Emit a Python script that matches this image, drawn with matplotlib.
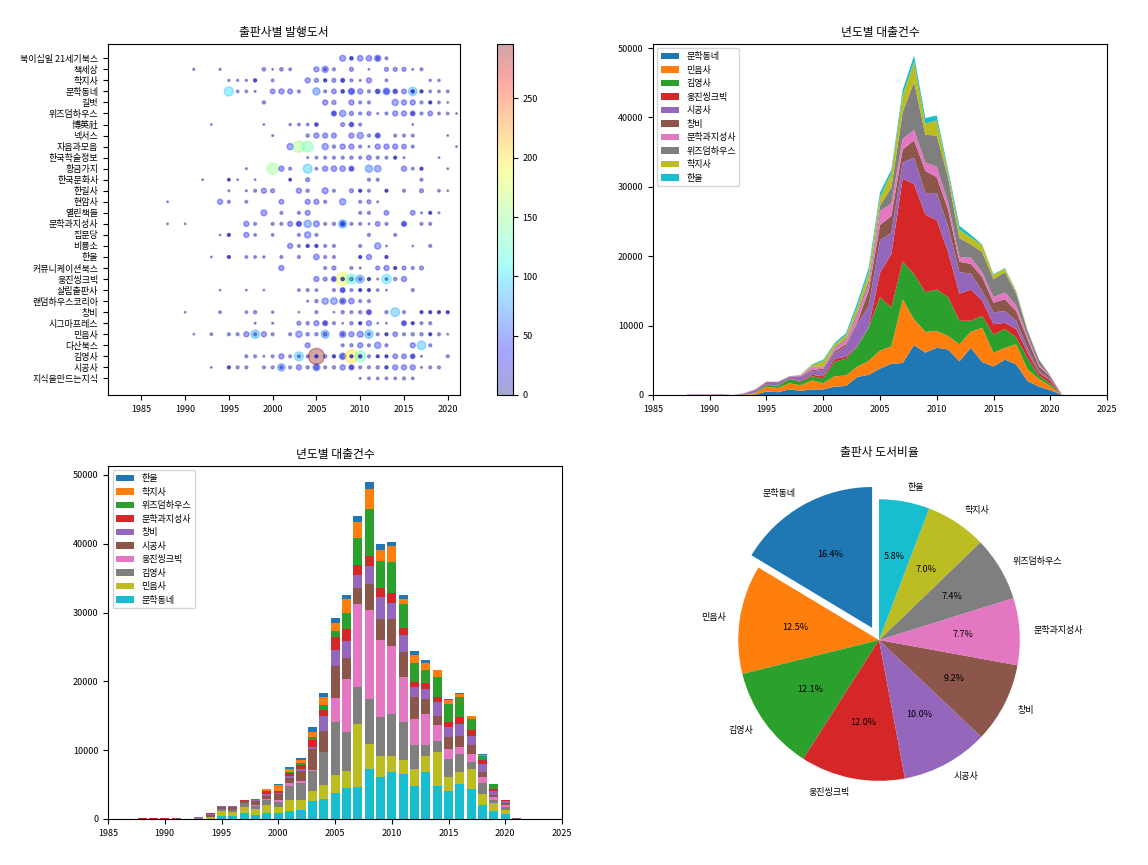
import matplotlib
matplotlib.use('Agg')
import matplotlib.pyplot as plt
import numpy as np

plt.rcParams['font.family'] = ['Noto Sans CJK KR', 'DejaVu Sans']
plt.rcParams['font.size'] = 6.5

# ---- 출판사별 발행도서 (scatter): one (year, loans) per book ----
# publishers from bottom row to top row
scatter_pubs = ['지식을만드는지식', '시공사', '김영사', '다산북스', '민음사', '시그마프레스', '창비',
                '랜덤하우스코리아', '살림출판사', '웅진씽크빅', '커뮤니케이션북스', '한울', '비룡소',
                '집문당', '문학과지성사', '열린책들', '현암사', '한길사', '한국문화사', '황금가지',
                '한국학술정보', '자음과모음', '넥서스', '博英社', '위즈덤하우스', '길벗', '문학동네',
                '학지사', '책세상', '북이십일 21세기북스']

books = {
    '북이십일 21세기북스': [(2008, 40), (2009, 12), (2009, 12), (2010, 35), (2011, 35), (2012, 45), (2012, 15), (2013, 10)],
    '책세상': [(1991, 5), (1994, 5), (1999, 14), (2000, 3), (2001, 14), (2002, 8), (2005, 30), (2006, 45), (2006, 8),
            (2007, 10), (2009, 18), (2011, 3), (2013, 18), (2014, 18), (2015, 18), (2016, 4), (2017, 10)],
    '학지사': [(1995, 5), (1996, 5), (1997, 5), (1998, 10), (1998, 10), (2000, 8), (2004, 30), (2005, 18), (2006, 10),
            (2006, 10), (2007, 18), (2008, 18), (2008, 10), (2009, 10), (2010, 4), (2011, 30), (2013, 8), (2018, 6), (2019, 6)],
    '문학동네': [(1995, 95), (1996, 8), (1997, 8), (1998, 4), (2000, 25), (2001, 30), (2002, 28), (2003, 10), (2005, 60),
             (2006, 10), (2007, 25), (2008, 12), (2008, 12), (2009, 45), (2009, 20), (2010, 30), (2011, 10), (2012, 25),
             (2012, 12), (2013, 50), (2013, 20), (2014, 25), (2014, 10), (2015, 25), (2016, 80), (2016, 10), (2016, 10),
             (2017, 10), (2017, 10), (2018, 8), (2019, 8), (2020, 8)],
    '길벗': [(1999, 12), (2006, 30), (2007, 20), (2009, 30), (2010, 10), (2011, 10), (2014, 45), (2015, 30), (2016, 30),
           (2017, 10), (2018, 10), (2018, 10), (2019, 8), (2020, 3)],
    '위즈덤하우스': [(2007, 30), (2007, 12), (2008, 45), (2009, 20), (2010, 10), (2011, 18), (2012, 4), (2013, 10), (2014, 30),
               (2015, 30), (2016, 25), (2016, 10), (2017, 10), (2018, 25), (2019, 8), (2020, 8), (2021, 3)],
    '博英社': [(1993, 3), (1999, 3), (2002, 6), (2003, 8), (2004, 8), (2005, 15), (2005, 8), (2008, 18), (2009, 25),
            (2009, 10), (2010, 10), (2016, 3)],
    '넥서스': [(2000, 4), (2004, 12), (2005, 30), (2006, 30), (2007, 28), (2009, 30), (2010, 45), (2011, 10), (2012, 30),
            (2012, 10), (2014, 10), (2015, 10), (2016, 10), (2020, 3)],
    '자음과모음': [(2002, 45), (2003, 155), (2004, 135), (2006, 45), (2007, 12), (2008, 30), (2009, 30), (2010, 10),
              (2011, 4), (2012, 30), (2013, 30), (2014, 30), (2015, 25), (2016, 10), (2021, 3)],
    '한국학술정보': [(2004, 4), (2005, 8), (2006, 10), (2007, 10), (2008, 10), (2009, 12), (2010, 10), (2011, 25),
               (2012, 10), (2013, 10), (2014, 10), (2014, 8), (2015, 4), (2019, 3)],
    '황금가지': [(1997, 4), (2000, 150), (2001, 30), (2002, 10), (2004, 90), (2005, 8), (2006, 30), (2007, 35), (2008, 35),
             (2009, 30), (2009, 10), (2011, 60), (2012, 50), (2015, 30), (2016, 8), (2017, 10), (2017, 8), (2020, 3)],
    '한국문화사': [(1992, 3), (1995, 8), (1995, 6), (1996, 3), (1998, 3), (2002, 8), (2002, 6), (2004, 18), (2011, 10),
              (2012, 10), (2017, 10)],
    '한길사': [(1995, 4), (1997, 4), (1998, 10), (1999, 30), (2000, 18), (2003, 30), (2004, 12), (2006, 40), (2007, 10),
            (2009, 18), (2010, 10), (2010, 8), (2011, 10), (2013, 10), (2013, 8), (2015, 10), (2017, 18), (2019, 8), (2020, 3)],
    '현암사': [(1988, 3), (1994, 30), (1995, 10), (1997, 8), (2001, 25), (2004, 28), (2005, 28), (2006, 10), (2008, 45),
            (2010, 10), (2011, 18), (2012, 4)],
    '열린책들': [(1999, 40), (2001, 10), (2003, 10), (2004, 28), (2010, 10), (2011, 10), (2013, 25), (2016, 25), (2017, 4),
             (2018, 10), (2018, 8), (2019, 4)],
    '문학과지성사': [(1988, 3), (1990, 3), (1997, 30), (1998, 10), (2000, 10), (2001, 10), (2002, 28), (2003, 30), (2003, 15),
               (2004, 60), (2005, 40), (2006, 10), (2007, 12), (2008, 80), (2008, 30), (2008, 10), (2009, 10), (2010, 10),
               (2011, 4), (2012, 25), (2013, 10), (2015, 30), (2015, 12), (2017, 10), (2018, 10)],
    '집문당': [(1994, 3), (1995, 10), (1995, 8), (1997, 30), (1998, 8), (2000, 8), (2003, 10), (2004, 45), (2005, 10),
            (2011, 10), (2014, 10)],
    '비룡소': [(2002, 30), (2003, 10), (2004, 12), (2004, 8), (2005, 12), (2005, 8), (2006, 10), (2007, 10), (2010, 10),
            (2012, 45), (2013, 3), (2016, 3), (2018, 10)],
    '한울': [(1993, 3), (1995, 10), (1995, 8), (1997, 8), (1998, 8), (1999, 6), (2001, 10), (2003, 10), (2005, 35),
           (2006, 10), (2007, 10), (2010, 10), (2010, 8), (2011, 30), (2013, 10), (2013, 8)],
    '커뮤니케이션북스': [(2001, 30), (2006, 10), (2007, 18), (2009, 10), (2010, 4), (2012, 18), (2013, 30), (2014, 10),
                 (2014, 8), (2015, 18), (2016, 10), (2017, 18)],
    '웅진씽크빅': [(2005, 30), (2006, 18), (2007, 30), (2007, 10), (2008, 185), (2008, 15), (2008, 10), (2009, 110),
              (2009, 15), (2010, 70), (2010, 10), (2011, 10), (2011, 10), (2012, 4), (2013, 100), (2013, 8), (2014, 12), (2015, 30)],
    '살림출판사': [(1994, 3), (1997, 3), (1999, 3), (2003, 8), (2004, 10), (2005, 8), (2007, 10), (2008, 30), (2008, 12),
              (2009, 10), (2010, 10), (2010, 8), (2011, 10), (2011, 8), (2012, 8), (2013, 3), (2016, 10)],
    '랜덤하우스코리아': [(2004, 4), (2005, 12), (2006, 45), (2007, 50), (2008, 45), (2008, 12), (2009, 35), (2010, 10), (2011, 10)],
    '창비': [(1990, 3), (1994, 8), (1997, 8), (1998, 12), (2000, 6), (2003, 3), (2005, 10), (2007, 3), (2008, 12), (2009, 10),
           (2010, 12), (2011, 30), (2011, 10), (2013, 12), (2014, 85), (2015, 10), (2017, 10), (2017, 8), (2018, 10),
           (2018, 8), (2019, 10), (2019, 8), (2020, 10), (2020, 8)],
    '시그마프레스': [(1998, 4), (2000, 4), (2003, 18), (2004, 12), (2005, 30), (2006, 30), (2006, 10), (2007, 10), (2008, 3),
               (2009, 12), (2010, 10), (2010, 8), (2011, 30), (2012, 3), (2013, 3), (2015, 30), (2015, 10), (2016, 10),
               (2016, 8), (2017, 10), (2018, 10)],
    '민음사': [(1991, 3), (1993, 8), (1995, 10), (1996, 10), (1997, 30), (1998, 80), (1998, 10), (1999, 30), (2000, 10),
            (2002, 10), (2003, 45), (2004, 12), (2005, 12), (2006, 70), (2006, 15), (2008, 45), (2008, 10), (2009, 30),
            (2010, 40), (2011, 80), (2011, 8), (2012, 10), (2013, 10), (2013, 8), (2014, 25), (2015, 10), (2016, 12),
            (2017, 12), (2018, 10), (2018, 8), (2019, 10), (2020, 3)],
    '다산북스': [(2004, 28), (2008, 10), (2009, 12), (2010, 30), (2011, 10), (2012, 45), (2013, 10), (2016, 30), (2017, 85),
             (2018, 10)],
    '김영사': [(1997, 10), (1998, 10), (1999, 4), (2000, 10), (2001, 30), (2002, 10), (2003, 90), (2003, 10), (2004, 10),
            (2005, 296), (2005, 10), (2005, 8), (2006, 12), (2007, 10), (2007, 10), (2008, 50), (2008, 20), (2009, 200),
            (2009, 10), (2009, 8), (2010, 130), (2010, 12), (2010, 10), (2011, 10), (2012, 10), (2012, 8), (2013, 10),
            (2013, 8), (2014, 25), (2015, 25), (2016, 25), (2016, 10), (2017, 4), (2020, 10)],
    '시공사': [(1993, 3), (1995, 10), (1995, 8), (1996, 10), (1997, 10), (1999, 10), (2000, 10), (2001, 60), (2001, 10),
            (2002, 10), (2003, 30), (2004, 12), (2005, 55), (2005, 20), (2006, 10), (2007, 12), (2008, 30), (2009, 30),
            (2009, 12), (2010, 10), (2011, 10), (2012, 12), (2013, 12), (2013, 8), (2014, 30), (2015, 30), (2016, 30),
            (2017, 4), (2018, 10), (2019, 10)],
    '지식을만드는지식': [(2010, 4), (2011, 8), (2012, 8), (2013, 8), (2014, 8), (2015, 10), (2016, 8)],
}

# ---- 년도별 대출건수 (top 10 publishers) ----
top_pubs = ['문학동네', '민음사', '김영사', '웅진씽크빅', '시공사', '창비', '문학과지성사', '위즈덤하우스', '학지사', '한울']
loan_years = list(range(1988, 2022))
loans_munhak = [0, 0, 0, 0, 0, 0, 50, 500, 400, 800, 600, 800, 800, 1200, 1300, 2600, 2900, 3800, 4500, 4600, 7200,
                6100, 6800, 6550, 4850, 6800, 4750, 4100, 5100, 4400, 2000, 1200, 700, 0]
loans_minum = [0, 0, 0, 0, 0, 50, 200, 700, 600, 900, 800, 1300, 900, 1500, 1500, 1500, 2000, 2600, 2500, 9200, 3700,
               3000, 2400, 1950, 2450, 2300, 4950, 2000, 1700, 2900, 1700, 1100, 600, 0]
loans_gimyoung = [0, 0, 0, 0, 0, 50, 100, 250, 300, 600, 500, 600, 700, 2100, 2400, 2900, 4800, 7700, 5600, 5400, 6500,
                  5700, 6000, 5600, 3400, 1600, 1700, 2600, 2700, 1000, 1600, 500, 400, 0]
loans_woongjin = [0, 0, 0, 0, 0, 0, 0, 50, 50, 50, 100, 200, 300, 400, 300, 100, 100, 3500, 7700, 12000, 13000, 11200,
                  10000, 6500, 3900, 4500, 2200, 1500, 900, 1200, 800, 400, 400, 0]
loans_sigong = [60, 60, 60, 100, 0, 100, 300, 300, 400, 250, 600, 500, 900, 800, 1500, 3100, 3000, 4700, 3100, 2300,
                3800, 3100, 3900, 3700, 3100, 2300, 1400, 1700, 1700, 1200, 700, 300, 200, 100]
loans_changbi = [0, 0, 0, 0, 0, 30, 50, 100, 100, 50, 100, 200, 200, 300, 300, 300, 2200, 2200, 2400, 1900, 2500, 3200,
                 2300, 2400, 1500, 1400, 2000, 1400, 1700, 1400, 1200, 600, 300, 0]
loans_moonji = [40, 40, 40, 50, 0, 20, 100, 50, 50, 50, 100, 400, 200, 400, 600, 1000, 900, 2000, 1800, 1500, 1500, 1200,
                1500, 1000, 700, 900, 700, 800, 1000, 800, 500, 300, 100, 50]
loans_wisdom = [0, 0, 0, 0, 0, 0, 0, 0, 0, 0, 50, 100, 100, 200, 200, 400, 600, 800, 2300, 3900, 6900, 4000, 4500, 3600,
                2700, 1900, 2900, 2600, 2900, 1700, 700, 700, 100, 0]
loans_hakji = [0, 0, 0, 0, 0, 0, 50, 0, 0, 0, 50, 200, 800, 400, 500, 800, 1200, 1200, 2100, 2400, 2900, 1600, 2200, 700,
               1200, 1000, 1000, 600, 500, 300, 150, 0, 0, 0]
loans_hanul = [0, 0, 0, 0, 0, 0, 0, 0, 0, 0, 0, 100, 200, 200, 300, 600, 600, 700, 500, 800, 900, 800, 700, 500, 600,
               400, 100, 100, 100, 100, 50, 0, 0, 0]

# ---- 출판사 도서비율 ----
pie_share = [16.4, 12.5, 12.1, 12.0, 10.0, 9.2, 7.7, 7.4, 7.0, 5.8]

loans = np.array([loans_munhak, loans_minum, loans_gimyoung, loans_woongjin, loans_sigong,
                  loans_changbi, loans_moonji, loans_wisdom, loans_hakji, loans_hanul])

fig = plt.figure(figsize=(11.48, 8.65), dpi=100)

# scatter
ax1 = fig.add_axes([0.0941, 0.5434, 0.3066, 0.4058])
xs, ys, vs = [], [], []
for i, p in enumerate(scatter_pubs):
    for yr, v in books[p]:
        xs.append(yr)
        ys.append(i)
        vs.append(v)
vs = np.array(vs)
sc = ax1.scatter(xs, ys, s=vs * 0.45, c=vs, cmap='jet', alpha=0.35, vmin=0, vmax=vs.max())
ax1.set_yticks(range(len(scatter_pubs)))
ax1.set_yticklabels(scatter_pubs)
ax1.set_xticks(range(1985, 2021, 5))
ax1.set_xlim(1981.2, 2021.4)
ax1.set_ylim(-1.5, 30.3)
ax1.set_title('출판사별 발행도서', fontsize=8.5)
cax = fig.add_axes([0.4329, 0.5434, 0.0139, 0.4058])
fig.colorbar(sc, cax=cax)

# stacked area
ax2 = fig.add_axes([0.5688, 0.5434, 0.3955, 0.4058])
ax2.stackplot(loan_years, loans, labels=top_pubs)
ax2.set_xlim(1985, 2025)
ax2.set_ylim(0, 50600)
ax2.legend(loc='upper left', fontsize=6.5)
ax2.set_title('년도별 대출건수', fontsize=8.5)

# stacked bars, drawn from the tallest cumulative down
ax3 = fig.add_axes([0.0941, 0.0532, 0.3955, 0.4081])
cum = np.cumsum(loans, axis=0)
for k in range(len(top_pubs) - 1, -1, -1):
    ax3.bar(loan_years, cum[k], label=top_pubs[k])
ax3.set_xlim(1985, 2025)
ax3.set_ylim(0, 51300)
ax3.legend(loc='upper left', fontsize=6.5)
ax3.set_title('년도별 대출건수', fontsize=8.5)

# pie
ax4 = fig.add_axes([0.6124, 0.0566, 0.3066, 0.4069])
explode = [0.1] + [0] * (len(top_pubs) - 1)
ax4.pie(pie_share, labels=top_pubs, autopct='%.1f%%', startangle=90, explode=explode,
        textprops={'fontsize': 6.5})
ax4.set_title('출판사 도서비율', fontsize=8.5)

plt.savefig('out.png', dpi=100)
